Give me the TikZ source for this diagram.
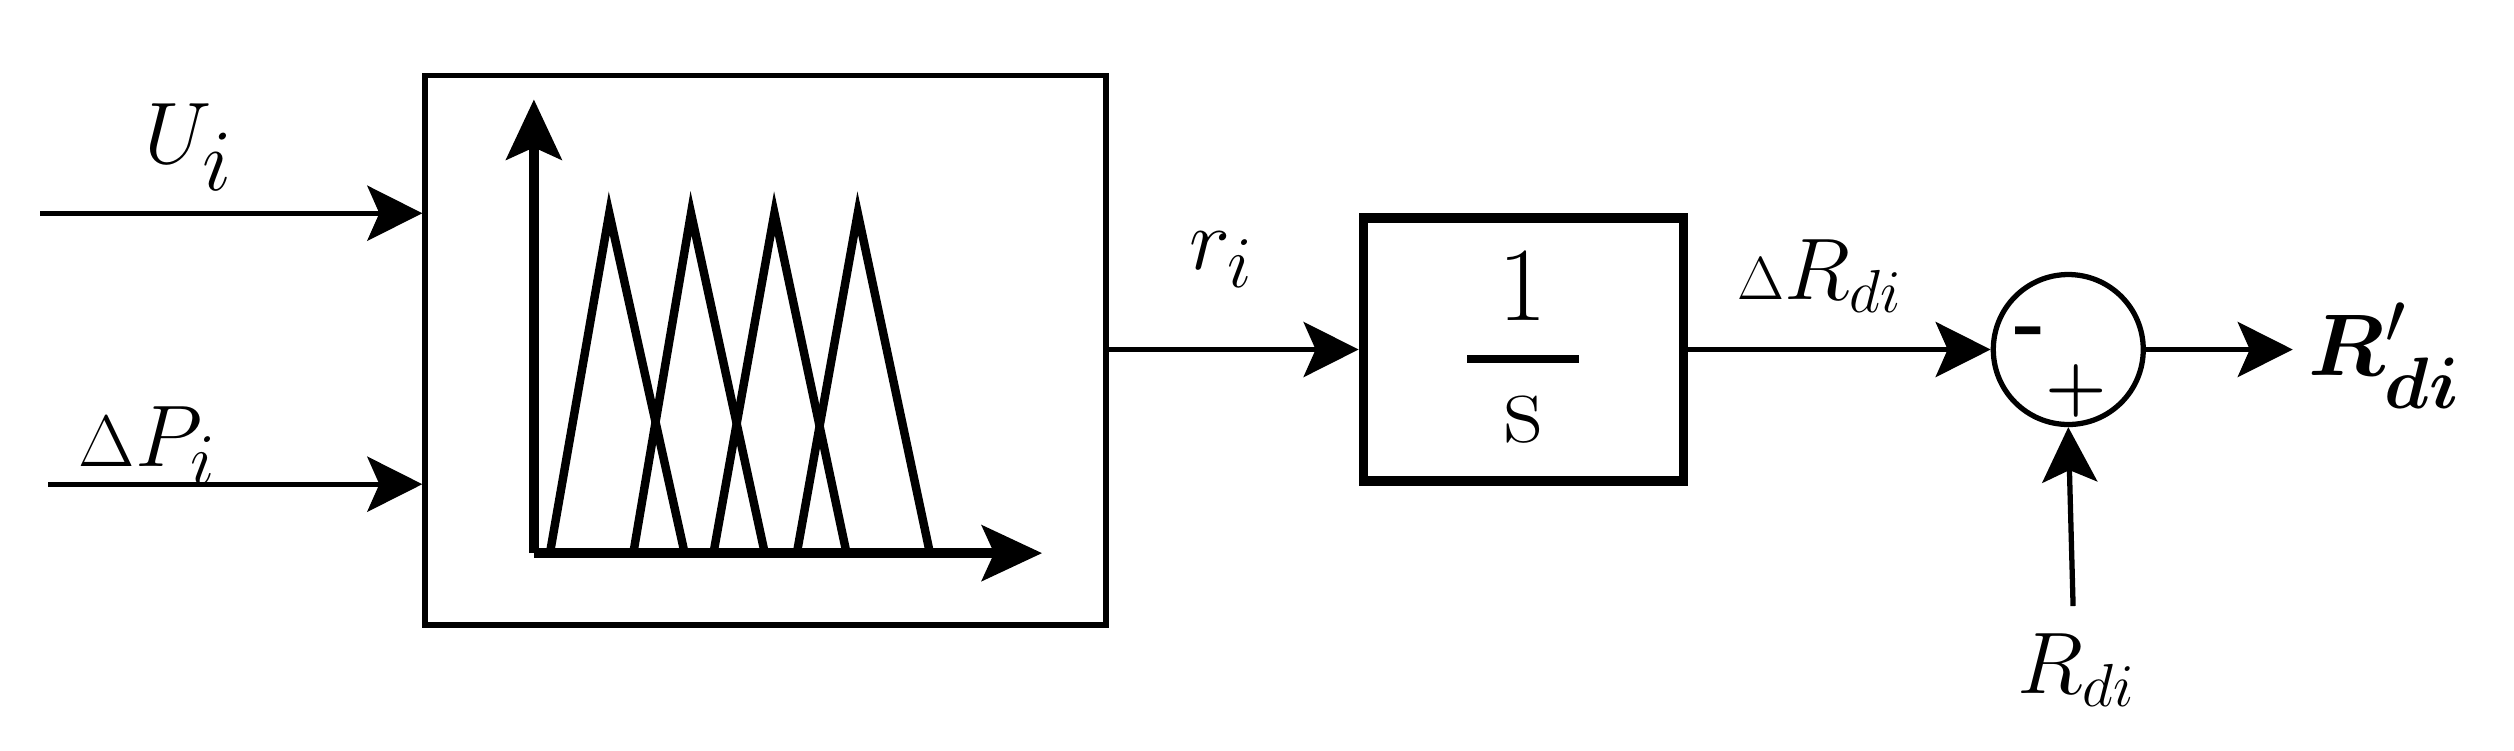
\documentclass[tikz,border=0pt]{standalone}
\usepackage{amsmath,bm}
\usetikzlibrary{arrows.meta}
\begin{document}
\begin{tikzpicture}[x=0.016033cm,y=-0.016033cm,
  arr/.style={line width=1.5pt,-{Stealth[length=5.5mm,width=5.5mm,inset=1.2mm]}},
  big/.style={font=\fontsize{36}{40}\selectfont},
  mid/.style={font=\fontsize{30}{34}\selectfont},
  sm/.style={font=\fontsize{25}{28}\selectfont}]
\useasboundingbox (0,0) rectangle (1568,468);
\node[draw,line width=1.6pt,inner sep=0pt,
  minimum width=6.81cm,minimum height=5.5cm] (fz) at (477.5,218.5) {};
\node[draw,line width=2.6pt,inner sep=0pt,minimum width=3.2cm,minimum height=2.63cm] (int) at (950,218) {};
\node[draw,line width=1.5pt,circle,minimum size=1.5cm,inner sep=0pt] (sum) at (1290,218) {};
\coordinate (u0) at (25,133); \coordinate (u1) at (fz.west|-u0);
\coordinate (p0) at (30,302); \coordinate (p1) at (fz.west|-p0);
\draw[arr] (u0) -- (u1);
\draw[arr] (p0) -- (p1);
\node[big] (ul) at (118,92) {$U_i$};
\node[mid] (pl) at (92,278) {$\scriptstyle\Delta\displaystyle P_i$};
% axes
\coordinate (o) at (333,345); \coordinate (ya) at (333,62); \coordinate (xa) at (650,345);
\draw[line width=3pt,-{Stealth[length=6mm,width=5.5mm,inset=1.2mm]}] (o) -- (ya);
\draw[line width=3pt,-{Stealth[length=6mm,width=5.5mm,inset=1.2mm]}] (o) -- (xa);
\foreach \a/\b/\c in {343/380/427,395/431/477,445/483/528,497/535/580}
  \draw[line width=2.4pt,line join=miter] (\a,345) -- (\b,133) -- (\c,345);
\draw[arr] (fz.east|-int.west) -- (int.west);
\node[mid] (rl) at (762,162) {$r_i$};
\node[font=\fontsize{30}{34}\selectfont] (one) at (950,178) {1};
\draw[line width=2.2pt] (915,224) -- (985,224);
\node[font=\fontsize{30}{34}\selectfont] (s) at (950,262) {s};
\draw[arr] (int.east) -- (sum.west);
\node[sm] (drl) at (1135,172) {$\scriptstyle\Delta\displaystyle R_{di}$};
\node[font=\fontsize{24}{24}\selectfont\bfseries] (mn) at (1266,211) {-};
\node[font=\fontsize{20}{20}\selectfont\bfseries] (pn) at (1295,244) {+};
\coordinate (out) at (1430,218);
\draw[arr] (sum.east) -- (out);
\node[mid,anchor=west] (rout) at (1432,222) {$\bm{R_{di}}'$};
\coordinate (rin) at (1293,378);
\draw[arr] (rin) -- (sum.south);
\node[sm] (rdl) at (1295,418) {$R_{di}$};
\end{tikzpicture}
\end{document}
